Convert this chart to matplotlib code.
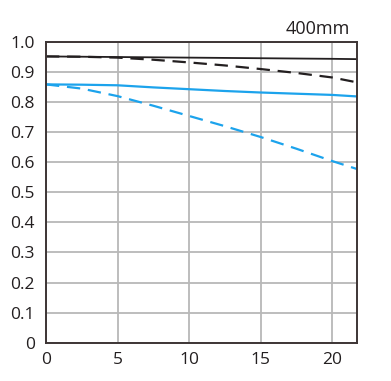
import matplotlib.pyplot as plt

# image height in mm
x = [0, 2.5, 5, 7.5, 10, 12.5, 15, 17.5, 20, 21.7]
black_solid = [0.952, 0.951, 0.950, 0.949, 0.948, 0.947, 0.946, 0.945, 0.944, 0.943]
black_dashed = [0.952, 0.951, 0.948, 0.941, 0.932, 0.922, 0.910, 0.897, 0.882, 0.866]
blue_solid = [0.859, 0.858, 0.856, 0.849, 0.843, 0.837, 0.832, 0.828, 0.824, 0.819]
blue_dashed = [0.859, 0.845, 0.820, 0.788, 0.754, 0.720, 0.684, 0.645, 0.604, 0.578]

xticks = [0, 5, 10, 15, 20]
yticks = [0, 0.1, 0.2, 0.3, 0.4, 0.5, 0.6, 0.7, 0.8, 0.9, 1.0]
ylabels = ["0", "0.1", "0.2", "0.3", "0.4", "0.5", "0.6", "0.7", "0.8", "0.9", "1.0"]

plt.rcParams["font.family"] = ["Open Sans", "DejaVu Sans"]

fig = plt.figure(figsize=(3.91, 3.81), dpi=100)
ax = fig.add_axes([0.1176, 0.1005, 0.7944, 0.7893])

black = "#231f20"
blue = "#1ca3ec"

ax.plot(x, black_solid, color=black, lw=1.3)
ax.plot(x, black_dashed, color=black, lw=1.6, dashes=(6, 3.5))
ax.plot(x, blue_solid, color=blue, lw=1.6)
ax.plot(x, blue_dashed, color=blue, lw=1.6, dashes=(6, 3.5))

ax.set_xlim(0, 21.7)
ax.set_ylim(0, 1.0)
ax.set_xticks(xticks)
ax.set_yticks(yticks)
ax.set_yticklabels(ylabels)
ax.grid(True, color="#b8b8b8", lw=1.3)
ax.set_axisbelow(True)
ax.tick_params(length=0, labelsize=12.5, colors="#231f20")
ax.tick_params(axis="y", pad=8)
ax.tick_params(axis="x", pad=7)
for s in ax.spines.values():
    s.set_color("#3d3535")
    s.set_linewidth(1.4)

fig.text(0.895, 0.925, "400mm", ha="right", va="center", fontsize=13, color="#231f20")

fig.savefig("out.png", dpi=100)
